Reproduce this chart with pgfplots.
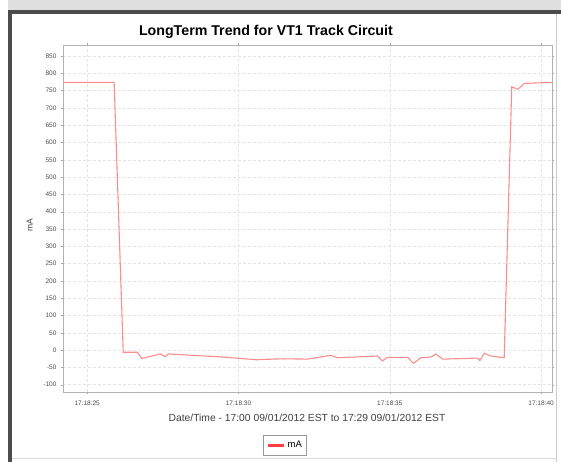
\documentclass[border=0pt]{standalone}
\usepackage{pgfplots}
\pgfplotsset{compat=1.18}
\usepackage{fontspec}
\setmainfont{Liberation Sans}
\definecolor{gridc}{HTML}{E4E4E4}
\definecolor{linec}{HTML}{FF8C8C}
\definecolor{legc}{HTML}{FF4040}
\begin{document}
\begin{tikzpicture}[x=1pt,y=1pt]
\path[use as bounding box] (-63,-70) rectangle (498,392);
% window frame
\fill[gray!25] (-55,380) rectangle (498,392);
\draw[line width=4pt, black!70] (-53,-70) -- (-53,380) -- (498,380);
\draw[line width=1pt, gray!40] (493,-70) -- (493,378);
\draw[line width=0.8pt, gray!30] (-51,-66) -- (493,-66);
\begin{axis}[
  at={(0,0)}, anchor=south west,
  scale only axis, width=489pt, height=347pt,
  xmin=24.2, xmax=40.36, ymin=-121, ymax=882,
  xtick={25,30,35,40},
  xticklabels={17:18:25,17:18:30,17:18:35,17:18:40},
  ytick={-100,-50,...,850},
  tick style={gray!70, line width=0.4pt},
  tick align=outside, major tick length=2pt,
  axis line style={gray!60, line width=0.6pt},
  grid=major,
  major grid style={gridc, densely dashed, line width=0.5pt},
  ticklabel style={font=\fontsize{6.5}{7}\selectfont, text=black!70},
  /pgf/number format/assume math mode=true,
  yticklabel style={xshift=-1pt},
  xticklabel style={yshift=-3pt},
  title={\bfseries LongTerm Trend for VT1 Track Circuit},
  title style={font=\fontsize{14.2}{16}\selectfont, at={(axis description cs:0.415,1)}, anchor=center, yshift=7pt},
  xlabel={Date/Time - 17:00 09/01/2012 EST to 17:29 09/01/2012 EST},
  xlabel style={font=\fontsize{10.3}{12}\selectfont, text=black!75, at={(axis description cs:0.499,-0.075)}, anchor=center},
  ylabel={mA},
  ylabel style={font=\fontsize{8.5}{9}\selectfont, text=black!75, at={(axis description cs:-0.068,0.48)}, anchor=center},
  legend style={at={(axis description cs:0.454,-0.154)}, anchor=center,
    draw=gray!80, line width=0.8pt, font=\fontsize{9.5}{11}\selectfont,
    inner xsep=3pt, inner ysep=4pt, legend cell align=left},
  legend image code/.code={\draw[legc, line width=3.5pt] (0pt,0pt) -- (16pt,0pt);},
]
\addplot[linec, line width=1.1pt] coordinates {
(24.2,774) (25.89,774) (26.19,-6) (26.66,-6) (26.81,-24) (27.42,-11)
(27.58,-19) (27.68,-11) (29.5,-20) (30.62,-28) (30.73,-27) (31.5,-25)
(32.27,-26) (33.05,-15) (33.27,-22) (34.59,-17) (34.76,-31) (34.92,-21)
(35.59,-21) (35.78,-38) (36.03,-22) (36.36,-20) (36.52,-11) (36.75,-26)
(37.90,-23) (37.98,-30) (38.12,-9) (38.34,-17) (38.78,-22) (39.03,761)
(39.23,754) (39.45,771) (40.36,774)
};
\addlegendentry{mA}
\end{axis}
\end{tikzpicture}
\end{document}
